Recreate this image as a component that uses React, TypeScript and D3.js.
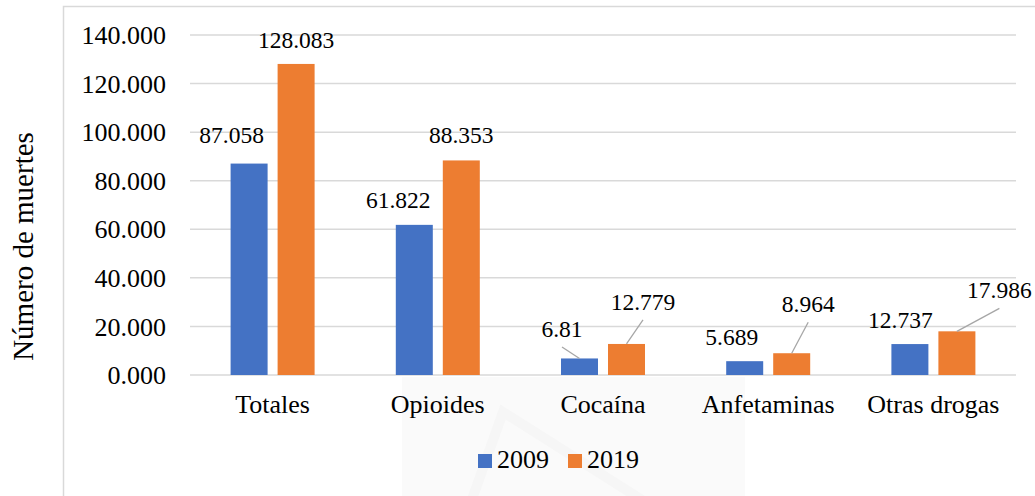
import React from "react";
import * as d3 from "d3";

const categories = ["Totales", "Opioides", "Cocaína", "Anfetaminas", "Otras drogas"];
const series = ["2009", "2019"];
const values2009 = [87.058, 61.822, 6.81, 5.689, 12.737];
const values2019 = [128.083, 88.353, 12.779, 8.964, 17.986];
const yTicks = [0, 20, 40, 60, 80, 100, 120, 140];
const colors = ["#4472C4", "#ED7D31"];

// label layout (pixel offsets relative to bar top center), and leader lines
const labelOffsets2009 = [
  { dx: -17.5, dy: -20.5, leader: false },
  { dx: -16, dy: -17, leader: false },
  { dx: -17.5, dy: -21.5, leader: true },
  { dx: -13, dy: -16, leader: false },
  { dx: -9.5, dy: -16, leader: false },
];
const labelOffsets2019 = [
  { dx: 0, dy: -16, leader: false },
  { dx: 0, dy: -17, leader: false },
  { dx: 16.5, dy: -34, leader: true },
  { dx: 16.5, dy: -41, leader: true },
  { dx: 42.5, dy: -33, leader: true },
];

const W = 1035;
const H = 496;
const FONT = "Liberation Serif";

export default function App() {
  const left = 190;
  const right = 1016;
  const top = 35;
  const bottom = 375;

  const x0 = d3.scaleBand<string>().domain(categories).range([left, right]).padding(0);
  const bw = x0.bandwidth();
  const x1 = d3
    .scaleBand<string>()
    .domain(series)
    .range([bw / 2 - 42, bw / 2 + 42])
    .paddingInner(10 / 47)
    .paddingOuter(0);
  const y = d3.scaleLinear().domain([0, 140]).range([bottom, top]);

  const seriesValues = [values2009, values2019];
  const seriesOffsets = [labelOffsets2009, labelOffsets2019];
  const ts = { fontFamily: FONT };

  return (
    <svg
      width={W}
      height={H}
      style={{ position: "absolute", left: 0, top: 0, background: "#fff", fontFamily: FONT }}
    >
      {/* faint watermark */}
      <rect x={402} y={377} width={343} height={130} fill="#fafafa" />
      <path d="M470,505 L503,412 L650,505" fill="none" stroke="#f6f6f6" strokeWidth={10} />

      {/* frame */}
      <rect x={63.5} y={6.5} width={1100} height={600} fill="none" stroke="#d9d9d9" strokeWidth={1.5} />

      {/* grid */}
      {yTicks.map((t) => (
        <g key={t}>
          <line x1={left} x2={right} y1={y(t)} y2={y(t)} stroke="#d9d9d9" strokeWidth={1.5} />
          <text x={166} y={y(t)} dy="0.35em" textAnchor="end" fontSize={26} fill="#000" style={ts}>
            {`${t}.000`}
          </text>
        </g>
      ))}

      {/* bars */}
      {series.map((s, si) => (
        <g key={s}>
          {categories.map((c, ci) => {
            const v = seriesValues[si][ci];
            const bx = (x0(c) ?? 0) + (x1(s) ?? 0);
            return (
              <rect
                key={c}
                x={bx}
                y={y(v)}
                width={x1.bandwidth()}
                height={y(0) - y(v)}
                fill={colors[si]}
              />
            );
          })}
        </g>
      ))}

      {/* data labels */}
      {series.map((s, si) => (
        <g key={"l" + s}>
          {categories.map((c, ci) => {
            const v = seriesValues[si][ci];
            const o = seriesOffsets[si][ci];
            const cx = (x0(c) ?? 0) + (x1(s) ?? 0) + x1.bandwidth() / 2;
            const ty = y(v);
            const lx = cx + o.dx;
            const ly = ty + o.dy;
            return (
              <g key={c}>
                {o.leader && (
                  <line x1={lx} y1={ly + 10} x2={cx} y2={ty} stroke="#a6a6a6" strokeWidth={1.3} />
                )}
                <text x={lx} y={ly} textAnchor="middle" fontSize={23.5} fill="#000" style={ts}>
                  {String(v)}
                </text>
              </g>
            );
          })}
        </g>
      ))}

      {/* x axis labels */}
      {categories.map((c) => (
        <text
          key={c}
          x={(x0(c) ?? 0) + bw / 2}
          y={413}
          textAnchor="middle"
          fontSize={26}
          fill="#000"
          style={ts}
        >
          {c}
        </text>
      ))}

      {/* y axis title */}
      <text
        transform={`translate(33,246.5) rotate(-90)`}
        textAnchor="middle"
        fontSize={29}
        fill="#000"
        style={ts}
      >
        Número de muertes
      </text>

      {/* legend */}
      {series.map((s, si) => (
        <g key={"lg" + s} transform={`translate(${478 + si * 90},454)`}>
          <rect x={0} y={0} width={14} height={14} fill={colors[si]} />
          <text x={19} y={14} fontSize={26} fill="#000" style={ts}>
            {s}
          </text>
        </g>
      ))}
    </svg>
  );
}
